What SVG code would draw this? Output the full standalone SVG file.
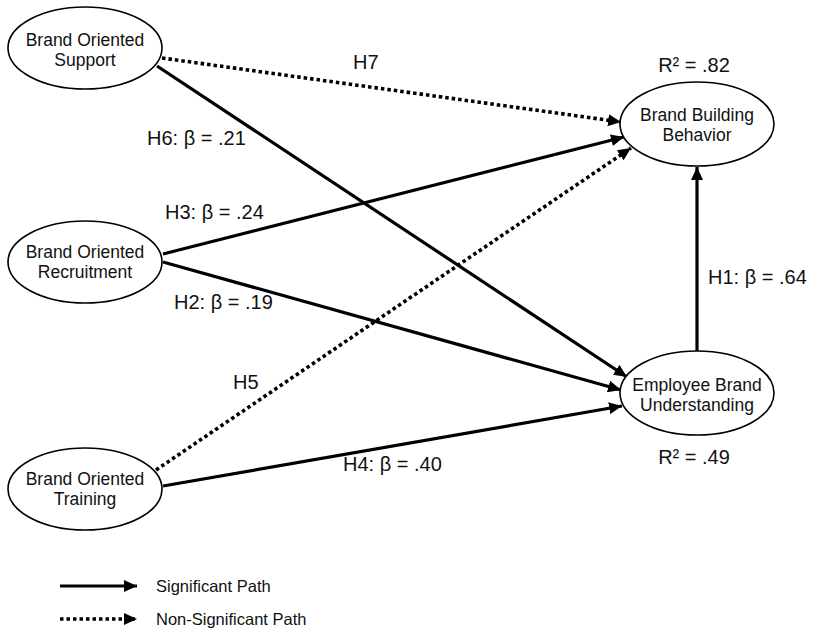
<svg xmlns="http://www.w3.org/2000/svg" width="813" height="628" viewBox="0 0 813 628">
<style>
.node ellipse{fill:#fff;stroke:#000;stroke-width:1.6}
.nt{font-family:"Liberation Sans",Arial,sans-serif;font-size:17.5px;text-anchor:middle;fill:#111}
.lb{font-family:"Liberation Sans",Arial,sans-serif;font-size:20px;fill:#111}
.sig{stroke:#000;stroke-width:3.2;fill:none;marker-end:url(#ah)}
.ns{stroke:#000;stroke-width:3.6;fill:none;stroke-dasharray:3.5 3;marker-end:url(#ah)}
.lg{font-family:"Liberation Sans",Arial,sans-serif;font-size:16.5px;fill:#111}
</style>
<defs>
<marker id="ah" markerUnits="userSpaceOnUse" markerWidth="14" markerHeight="12" refX="13" refY="6" orient="auto">
<path d="M0,0 L13,6 L0,12 Z" fill="#000"/>
</marker>
</defs>
<rect width="813" height="628" fill="#fff"/>
<g id="connectors">
<line class="ns" x1="162" y1="58" x2="621" y2="122"/>
<line class="sig" x1="157" y1="66" x2="627" y2="377"/>
<line class="sig" x1="163" y1="254" x2="624" y2="137"/>
<line class="ns" x1="156" y1="470" x2="631" y2="148"/>
<line class="sig" x1="163" y1="262" x2="621" y2="390"/>
<line class="sig" x1="163" y1="486" x2="622" y2="406"/>
<line class="sig" x1="697" y1="352" x2="697" y2="167"/>
</g>
<g id="support" class="node"><ellipse cx="85" cy="48" rx="77" ry="41"/><text class="nt" x="85" y="46">Brand Oriented</text><text class="nt" x="85" y="66">Support</text></g>
<g id="recruitment" class="node"><ellipse cx="85" cy="262" rx="77" ry="41"/><text class="nt" x="85" y="258">Brand Oriented</text><text class="nt" x="85" y="278">Recruitment</text></g>
<g id="training" class="node"><ellipse cx="85" cy="489" rx="77" ry="41"/><text class="nt" x="85" y="485">Brand Oriented</text><text class="nt" x="85" y="505">Training</text></g>
<g id="bbb" class="node"><ellipse cx="697" cy="124" rx="77" ry="42"/><text class="nt" x="697" y="121">Brand Building</text><text class="nt" x="697" y="141">Behavior</text></g>
<g id="ebu" class="node"><ellipse cx="697" cy="393" rx="77" ry="42"/><text class="nt" x="697" y="391">Employee Brand</text><text class="nt" x="697" y="411">Understanding</text></g>
<g id="labels">
<text class="lb" x="353" y="69">H7</text>
<text class="lb" x="147" y="145">H6: β = .21</text>
<text class="lb" x="165" y="219">H3: β = .24</text>
<text class="lb" x="174" y="309">H2: β = .19</text>
<text class="lb" x="233" y="389">H5</text>
<text class="lb" x="343" y="471">H4: β = .40</text>
<text class="lb" x="708" y="284">H1: β = .64</text>
<text class="lb" x="694" y="72" text-anchor="middle">R² = .82</text>
<text class="lb" x="694" y="464" text-anchor="middle">R² = .49</text>
</g>
<g id="legend">
<line class="sig" x1="60" y1="586" x2="137" y2="586"/>
<line class="ns" x1="60" y1="619" x2="137" y2="619"/>
<text class="lg" x="156" y="592">Significant Path</text>
<text class="lg" x="156" y="625">Non-Significant Path</text>
</g>
</svg>
